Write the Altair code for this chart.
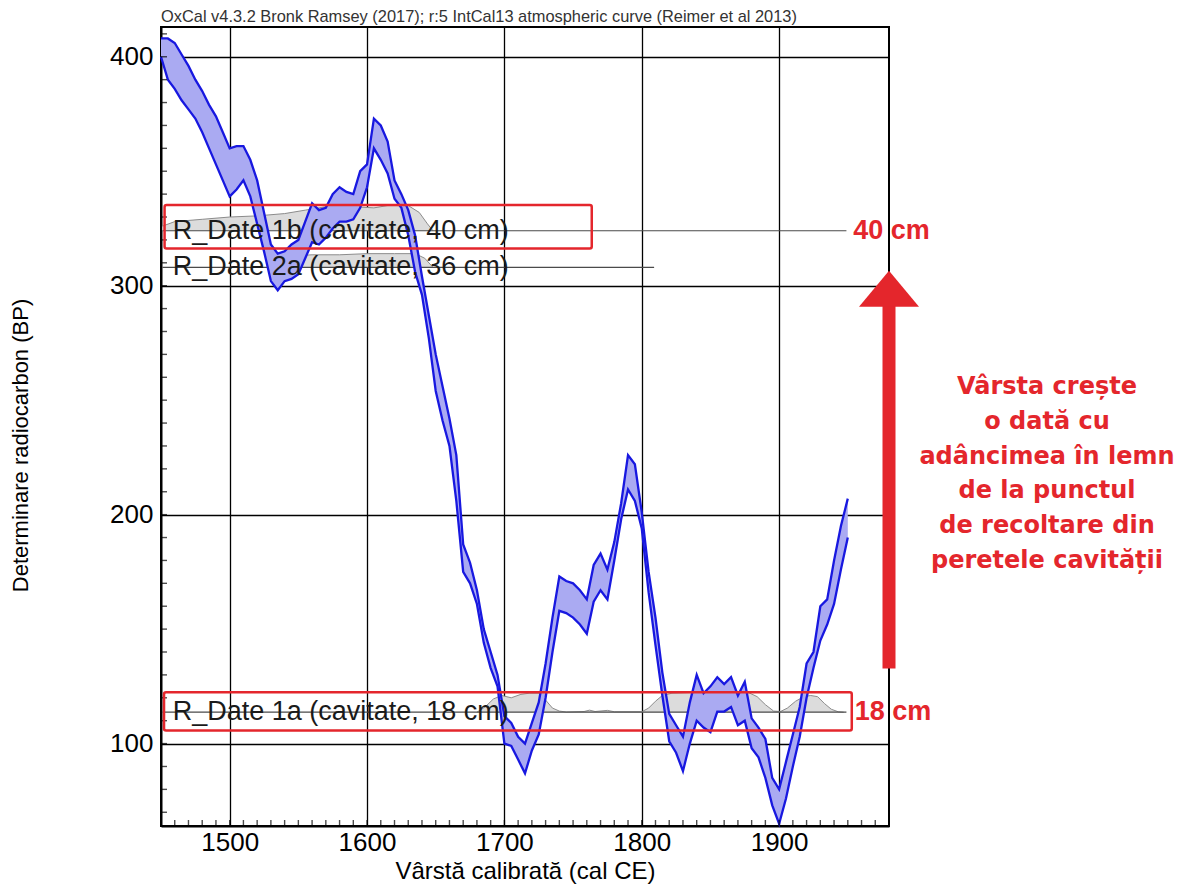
import altair as alt
import pandas as pd

# ---------------- data ----------------
years = list(range(1450, 1951, 5))
upper_bp = [408, 408, 406, 401, 396, 390, 385, 379, 374, 367,
            360, 361, 361, 355, 346, 332, 318, 314, 315, 318,
            320, 328, 336, 333, 334, 340, 343, 341, 340, 350,
            353, 373, 370, 363, 346, 340, 333, 322, 304, 287,
            270, 256, 242, 226, 187, 179, 167, 150, 140, 130,
            112, 109, 103, 100, 109, 118, 135, 155, 173, 171,
            170, 167, 163, 178, 183, 176, 188, 205, 226, 222,
            201, 175, 155, 131, 113, 108, 103, 118, 130, 122,
            125, 129, 126, 129, 121, 127, 111, 107, 102, 85,
            80, 92, 104, 116, 135, 140, 160, 163, 180, 195,
            207]
lower_bp = [400, 390, 386, 381, 377, 373, 367, 360, 353, 346,
            339, 342, 346, 339, 327, 315, 302, 298, 302, 303,
            305, 312, 319, 318, 321, 325, 328, 328, 329, 334,
            343, 360, 355, 349, 338, 334, 322, 306, 296, 277,
            254, 241, 230, 206, 175, 170, 161, 144, 133, 125,
            100, 99, 93, 87, 97, 104, 120, 140, 158, 157,
            155, 152, 148, 162, 167, 163, 180, 198, 211, 206,
            194, 166, 143, 121, 101, 96, 88, 100, 110, 107,
            105, 114, 114, 116, 108, 110, 98, 94, 85, 73,
            65, 76, 90, 103, 120, 133, 145, 152, 161, 176,
            190]

# likelihood distributions of the radiocarbon dates (top edge, BP)
dist_1b_years = [1451, 1460, 1480, 1500, 1520, 1540, 1555, 1570, 1590, 1605,
                 1615, 1630, 1638, 1644, 1648]
dist_1b_top = [326, 328, 329, 330, 330.5, 331.5, 333, 334.5, 334.5, 334,
               335, 335, 332, 327, 324]
dist_1b_base = 324

dist_2a_years = [1530, 1540, 1545, 1560, 1580, 1600, 1620, 1635, 1642, 1648]
dist_2a_top = [308, 311, 313, 313.5, 313.5, 314, 314, 314, 312, 308]
dist_2a_base = 308

dist_1a_years = [1680, 1686, 1692, 1698, 1705, 1712, 1718, 1725, 1730, 1735,
                 1740, 1745, 1758, 1762, 1766, 1775, 1780, 1800, 1805, 1810,
                 1815, 1822, 1835, 1850, 1865, 1878, 1884, 1890, 1896, 1901,
                 1906, 1912, 1918, 1923, 1928, 1933, 1938, 1943, 1947]
dist_1a_top = [113.7, 116, 119.5, 121, 120, 121.5, 122, 122, 119, 115.5,
               114.2, 113.8, 114, 114.6, 114, 114.5, 113.9, 113.9, 115.5, 118.5,
               121, 122, 122.3, 122.5, 122.5, 122.2, 120.5, 117, 114.2, 114,
               115.5, 118.5, 120.5, 121, 120.5, 117.5, 115, 113.9, 113.7]
dist_1a_base = 113.7

date_labels = ["R_Date 1b (cavitate, 40 cm)", "R_Date 2a (cavitate, 36 cm)",
               "R_Date 1a (cavitate, 18 cm)"]
date_bp = [324, 308, 113.7]
date_line_start = [1451, 1451, 1451]
date_line_end = [1949, 1809, 1949]
date_label_year = [1458.5, 1458.5, 1458.5]

box_x1 = [1452.6, 1452.2]
box_x2 = [1763.6, 1952.9]
box_y1 = [316.3, 105.7]
box_y2 = [335.2, 122.4]

depth_labels = ["40 cm", "18 cm"]
depth_bp = [324, 113.7]
depth_year = [1954, 1955]

arrow_year = [1980]
arrow_bottom = [132.8]
arrow_top = [292]
arrow_head_bp = [298.7]

note_lines = ["Vârsta crește", "o dată cu", "adâncimea în lemn",
              "de la punctul", "de recoltare din", "peretele cavității"]

x_ticks = [1500, 1600, 1700, 1800, 1900]
y_ticks = [100, 200, 300, 400]
x_minor = list(range(1460, 1980, 10))
y_minor = list(range(70, 413, 10))

X_DOMAIN = [1450, 1980]
Y_DOMAIN = [64, 413]

# ---------------- styles ----------------
RED = "#E4262C"
BLUE_LINE = "#1818E0"
BLUE_FILL = "#AAAAF2"
FONT = "Liberation Sans"

xs = alt.Scale(domain=X_DOMAIN, nice=False, zero=False)
ys = alt.Scale(domain=Y_DOMAIN, nice=False, zero=False)

x_axis = alt.Axis(values=x_ticks, format="d", title="Vârstă calibrată (cal CE)",
                  labelFont=FONT, labelFontSize=26, labelColor="black",
                  labelPadding=3, ticks=False, tickSize=0,
                  domainColor="black", domainWidth=2,
                  grid=True, gridColor="black", gridWidth=1.3, gridOpacity=1,
                  titleFont=FONT, titleFontSize=24, titleFontWeight="normal",
                  titleColor="black", titlePadding=4)
y_axis = alt.Axis(values=y_ticks, format="d", title="Determinare radiocarbon (BP)",
                  labelFont=FONT, labelFontSize=26, labelColor="black",
                  labelPadding=8, ticks=False, tickSize=0,
                  domainColor="black", domainWidth=2,
                  grid=True, gridColor="black", gridWidth=1.3, gridOpacity=1,
                  titleFont=FONT, titleFontSize=22, titleFontWeight="normal",
                  titleColor="black", titleAngle=270, titleAlign="center",
                  titleBaseline="middle", titleX=-141, titleY=418)


def X(field):
    return alt.X(field, type="quantitative", scale=xs, axis=x_axis)


def Y(field):
    return alt.Y(field, type="quantitative", scale=ys, axis=y_axis)


band_df = pd.DataFrame({"year": years, "upper": upper_bp, "lower": lower_bp})


def dist_chart(yrs, tops, base):
    df = pd.DataFrame({"year": yrs, "top": tops, "base": [base] * len(yrs)})
    area = alt.Chart(df).mark_area(color="#DCDCDC", opacity=1).encode(
        x=X("year"), y=Y("top"), y2="base:Q")
    line = alt.Chart(df).mark_line(color="#8C8C8C", strokeWidth=1).encode(
        x=X("year"), y=Y("top"))
    return area + line


dists = (dist_chart(dist_1b_years, dist_1b_top, dist_1b_base)
         + dist_chart(dist_2a_years, dist_2a_top, dist_2a_base)
         + dist_chart(dist_1a_years, dist_1a_top, dist_1a_base))

dl_df = pd.DataFrame({"label": date_labels, "bp": date_bp, "start": date_line_start,
                      "end": date_line_end, "lx": date_label_year})
date_lines = alt.Chart(dl_df).mark_rule(color="#4A4A4A", strokeWidth=1.2).encode(
    x=X("start"), x2="end:Q", y=Y("bp"))

band = alt.Chart(band_df).mark_area(color=BLUE_FILL, opacity=1).encode(
    x=X("year"), y=Y("upper"), y2="lower:Q")
band_up = alt.Chart(band_df).mark_line(color=BLUE_LINE, strokeWidth=2.3).encode(
    x=X("year"), y=Y("upper"))
band_lo = alt.Chart(band_df).mark_line(color=BLUE_LINE, strokeWidth=2.3).encode(
    x=X("year"), y=Y("lower"))

date_text = alt.Chart(dl_df).mark_text(align="left", baseline="alphabetic", dy=8,
                                       font=FONT, fontSize=27, color="#1A1A1A").encode(
    x=X("lx"), y=Y("bp"), text="label:N")

box_df = pd.DataFrame({"x1": box_x1, "x2": box_x2, "y1": box_y1, "y2": box_y2})
boxes = alt.Chart(box_df).mark_rect(fillOpacity=0, stroke=RED, strokeWidth=2.5,
                                    cornerRadius=2).encode(
    x=X("x1"), x2="x2:Q", y=Y("y1"), y2="y2:Q")

# inward minor ticks
xt = alt.Chart(pd.DataFrame({"year": x_minor, "bp": [Y_DOMAIN[0]] * len(x_minor)})).mark_tick(
    orient="vertical", size=12, thickness=1.4, color="black", clip=True).encode(
    x=X("year"), y=Y("bp"))
yt = alt.Chart(pd.DataFrame({"year": [X_DOMAIN[0]] * len(y_minor), "bp": y_minor})).mark_tick(
    orient="horizontal", size=12, thickness=1.4, color="black", clip=True).encode(
    x=X("year"), y=Y("bp"))

depth_df = pd.DataFrame({"label": depth_labels, "bp": depth_bp, "year": depth_year})
depth_text = alt.Chart(depth_df).mark_text(align="left", baseline="middle", font=FONT,
                                           fontSize=27, fontWeight="bold", color=RED).encode(
    x=X("year"), y=Y("bp"), text="label:N")

arrow_df = pd.DataFrame({"year": arrow_year, "b": arrow_bottom, "t": arrow_top,
                         "h": arrow_head_bp})
shaft = alt.Chart(arrow_df).mark_rule(color=RED, strokeWidth=13, strokeCap="butt").encode(
    x=X("year"), y=Y("b"), y2="t:Q")
head = alt.Chart(arrow_df).mark_point(shape="M -1 0.6 L 1 0.6 L 0 -0.6 Z", size=3600,
                                      filled=True, color=RED, opacity=1,
                                      strokeWidth=0).encode(
    x=X("year"), y=Y("h"))

note = alt.Chart(pd.DataFrame({"k": [0]})).mark_text(
    text=note_lines, align="center", baseline="top", font="DejaVu Sans",
    fontSize=24, fontWeight="bold", color=RED, lineHeight=34.8).encode(
    x=alt.value(886), y=alt.value(348))

chart = alt.layer(
    dists, date_lines, band, band_up, band_lo, xt, yt,
    date_text, boxes, depth_text, shaft, head, note
).properties(
    width=728, height=799,
    padding={"left": 153, "top": 19, "right": 286, "bottom": 59},
    autosize=alt.AutoSizeParams(type="none"),
    title=alt.Title(
        text="OxCal v4.3.2 Bronk Ramsey (2017); r:5 IntCal13 atmospheric curve (Reimer et al 2013)",
        anchor="start", frame="group", font=FONT, fontSize=16.4, fontWeight="normal",
        color="#333333", offset=2)
).configure_view(stroke="black", strokeWidth=2)

chart.save("out.html", embed_options={"renderer": "svg", "actions": False})
